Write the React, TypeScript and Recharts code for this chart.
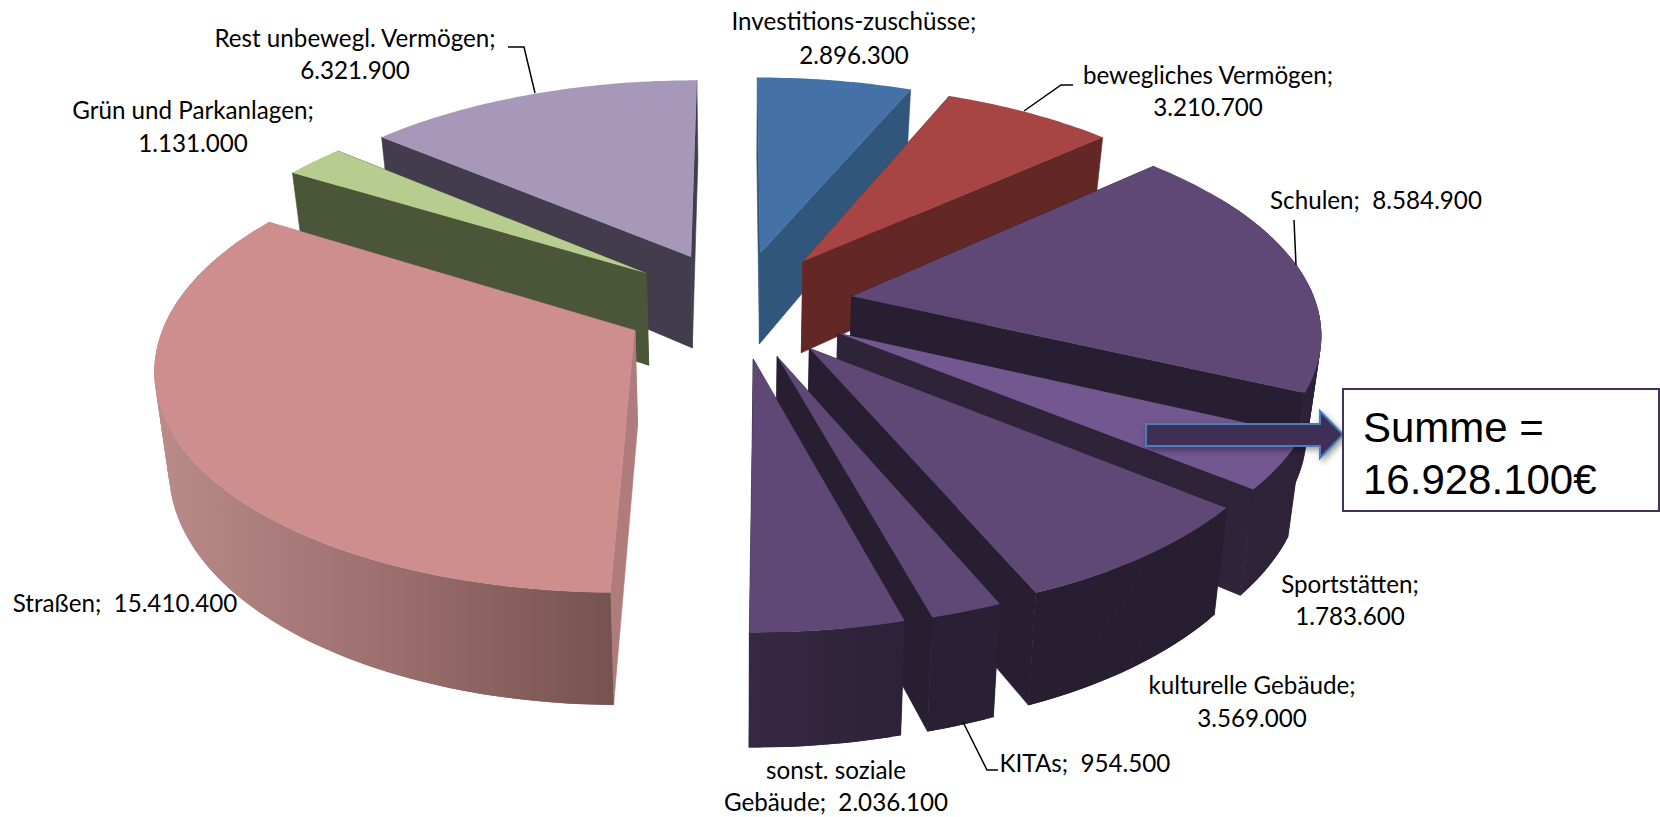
import { PieChart, Pie } from 'recharts';

// values clockwise from 12 o'clock (right half) and counter-clockwise (left half)
// two pies so the left half can paint back to front
const rightNames = ['Investitions-zuschüsse', 'bewegliches Vermögen', 'Schulen', 'Sportstätten', 'kulturelle Gebäude', 'KITAs', 'sonst. soziale Gebäude'];
const rightValues = [2896300, 3210700, 8584900, 1783600, 3569000, 954500, 2036100];
const leftNames = ['Rest unbewegl. Vermögen', 'Grün und Parkanlagen', 'Straßen'];
const leftValues = [6321900, 1131000, 15410400];
const sumLines = ['Summe =', '16.928.100€'];

const W = 1660;
const H = 817;
const CX = 738;
const CY = 304;
const RADIUS = 470;
const EXPLODE = 117;
const TILT = 0.458;
const PERSP = 0.183;
const DEPTH = 94;
const X_SCALE = 0.988;

const rightData = rightNames.map((name, i) => ({ name, value: rightValues[i] }));
const leftData = leftNames.map((name, i) => ({ name, value: leftValues[i] }));
const rightSum = rightValues.reduce((a, b) => a + b, 0);
const leftSum = leftValues.reduce((a, b) => a + b, 0);
const total = rightSum + leftSum;

const colors: Record<string, { top: string; face: string; wall: string }> = {
  'Investitions-zuschüsse': { top: '#4472a6', face: '#31567b', wall: '#31567b' },
  'bewegliches Vermögen': { top: '#a64543', face: '#632725', wall: '#632725' },
  Schulen: { top: '#5f4876', face: '#271e31', wall: '#2d2238' },
  Sportstätten: { top: '#725790', face: '#2e2339', wall: '#2e2339' },
  'kulturelle Gebäude': { top: '#5f4876', face: '#271e31', wall: '#271e31' },
  KITAs: { top: '#5f4876', face: '#271e31', wall: '#2a2035' },
  'sonst. soziale Gebäude': { top: '#5f4876', face: '#271e31', wall: 'url(#sonstWall)' },
  Straßen: { top: '#ce8e8d', face: '#af7c7b', wall: 'url(#strassenWall)' },
  'Grün und Parkanlagen': { top: '#b6cd8f', face: '#4b5538', wall: '#4b5538' },
  'Rest unbewegl. Vermögen': { top: '#a798ba', face: '#433c4c', wall: '#433c4c' },
};

type LabelDef = { x: number; lines: string[]; y: number[]; leader?: string };
const labels: Record<string, LabelDef> = {
  'Investitions-zuschüsse': { x: 854, lines: ['Investitions-zuschüsse;', '2.896.300'], y: [30, 64] },
  'bewegliches Vermögen': { x: 1208, lines: ['bewegliches Vermögen;', '3.210.700'], y: [84, 116], leader: '1073,85 1061,85 1024,111' },
  Schulen: { x: 1376, lines: ['Schulen;  8.584.900'], y: [209], leader: '1294,220 1296,265' },
  Sportstätten: { x: 1350, lines: ['Sportstätten;', '1.783.600'], y: [593, 625] },
  'kulturelle Gebäude': { x: 1252, lines: ['kulturelle Gebäude;', '3.569.000'], y: [694, 727] },
  KITAs: { x: 1085, lines: ['KITAs;  954.500'], y: [772], leader: '963,722 987,770 998,770' },
  'sonst. soziale Gebäude': { x: 836, lines: ['sonst. soziale', 'Gebäude;  2.036.100'], y: [779, 811] },
  Straßen: { x: 125, lines: ['Straßen;  15.410.400'], y: [612] },
  'Grün und Parkanlagen': { x: 193, lines: ['Grün und Parkanlagen;', '1.131.000'], y: [119, 152] },
  'Rest unbewegl. Vermögen': { x: 355, lines: ['Rest unbewegl. Vermögen;', '6.321.900'], y: [47, 79], leader: '508,47 524,47 535,93' },
};

const rad = (deg: number) => (deg * Math.PI) / 180;
const toPath = (pts: number[][]) => 'M' + pts.map((p) => `${p[0].toFixed(1)},${p[1].toFixed(1)}`).join('L') + 'Z';

// tilted, exploded slice from the angles recharts works out
function Slice3D(props: any) {
  const { cx, cy, outerRadius, startAngle, endAngle, payload, name } = props;
  const c = colors[name ?? payload?.name];
  const mid = (startAngle + endAngle) / 2;
  const ox = EXPLODE * Math.cos(rad(mid));
  const oy = -EXPLODE * Math.sin(rad(mid));
  const limit = outerRadius + EXPLODE;

  const project = (x: number, y: number, z: number) => {
    const s = 1 / (1 - (PERSP * y) / limit);
    const zs = 1 - (0.025 * z) / DEPTH;
    return [cx + x * X_SCALE * s * zs, cy + TILT * y * s + z * s];
  };
  const rimAt = (a: number, z: number) =>
    project(ox + outerRadius * Math.cos(rad(a)), oy - outerRadius * Math.sin(rad(a)), z);
  const apex = (z: number) => project(ox, oy, z);

  const steps = Math.max(2, Math.ceil(Math.abs(endAngle - startAngle)));
  const angles = Array.from({ length: steps + 1 }, (_, i) => startAngle + ((endAngle - startAngle) * i) / steps);
  const rim = angles.map((a) => rimAt(a, 0));
  // only the part of the outer wall that can show below the top
  const front = angles.filter((a) => Math.sin(rad(a)) < 0.5);

  return (
    <g>
      <path d={toPath([apex(0), rimAt(startAngle, 0), rimAt(startAngle, DEPTH), apex(DEPTH)])} fill={c.face} stroke={c.face} strokeWidth={0.6} />
      <path d={toPath([apex(0), rimAt(endAngle, 0), rimAt(endAngle, DEPTH), apex(DEPTH)])} fill={c.face} stroke={c.face} strokeWidth={0.6} />
      {/* one quad per step, overlapping the next one so no seams show;
          a single outline would cancel itself where the wall folds */}
      {front.slice(0, -1).map((a, i) => {
        const b = front[Math.min(i + 2, front.length - 1)];
        return <path key={i} d={toPath([rimAt(a, 0), rimAt(b, 0), rimAt(b, DEPTH), rimAt(a, DEPTH)])} fill={c.wall} />;
      })}
      <path d={toPath([apex(0), ...rim])} fill={c.top} />
    </g>
  );
}

function SliceLabel(props: any) {
  const def = labels[props.name ?? props.payload?.name];
  if (!def) return null;
  return (
    <g>
      {def.leader && <polyline points={def.leader} fill="none" stroke="#000" strokeWidth={1.5} />}
      {def.lines.map((line, i) => (
        <text
          key={i}
          x={def.x}
          y={def.y[i]}
          textAnchor="middle"
          xmlSpace="preserve"
          style={{ whiteSpace: 'pre' }}
          fontFamily="Lato, sans-serif"
          fontSize={24.2}
          fill="#000"
        >
          {line}
        </text>
      ))}
    </g>
  );
}

export default function App() {
  return (
    <div style={{ position: 'absolute', left: 0, top: 0, width: W, height: H, background: '#fff' }}>
      <PieChart width={W} height={H} margin={{ top: 0, right: 0, bottom: 0, left: 0 }}>
        <defs>
          <linearGradient id="strassenWall" gradientUnits="userSpaceOnUse" x1={153} y1={0} x2={611} y2={0}>
            <stop offset="0%" stopColor="#b98b89" />
            <stop offset="55%" stopColor="#996d6c" />
            <stop offset="100%" stopColor="#765350" />
          </linearGradient>
          <linearGradient id="sonstWall" gradientUnits="userSpaceOnUse" x1={750} y1={0} x2={905} y2={0}>
            <stop offset="0%" stopColor="#372842" />
            <stop offset="100%" stopColor="#2c2139" />
          </linearGradient>
        </defs>
        <Pie
          data={leftData}
          dataKey="value"
          nameKey="name"
          cx={CX}
          cy={CY}
          outerRadius={RADIUS}
          startAngle={90}
          endAngle={90 + (360 * leftSum) / total}
          stroke="none"
          shape={Slice3D}
          label={SliceLabel}
          labelLine={false}
          isAnimationActive={false}
        />
        <Pie
          data={rightData}
          dataKey="value"
          nameKey="name"
          cx={CX}
          cy={CY}
          outerRadius={RADIUS}
          startAngle={90}
          endAngle={90 - (360 * rightSum) / total}
          stroke="none"
          shape={Slice3D}
          label={SliceLabel}
          labelLine={false}
          isAnimationActive={false}
        />
      </PieChart>
      {/* callout for the sum of the buildings, has to sit above the pies */}
      <svg width={W} height={H} style={{ position: 'absolute', left: 0, top: 0, pointerEvents: 'none' }}>
        <path
          d="M1146,424H1320V411L1343,434.500L1320,458V446H1146Z"
          fill="#402f55"
          stroke="#4a7ebb"
          strokeWidth={2}
          style={{ filter: 'drop-shadow(2px 3px 3px rgba(0,0,0,0.4))' }}
        />
        <rect x={1343} y={389} width={316} height={122} fill="#fff" stroke="#433358" strokeWidth={2} />
        <text x={1363} y={442} fontFamily="Liberation Sans, Arial, sans-serif" fontSize={42} fill="#000">
          {sumLines[0]}
        </text>
        <text x={1363} y={494} fontFamily="Liberation Sans, Arial, sans-serif" fontSize={42} fill="#000">
          {sumLines[1]}
        </text>
      </svg>
    </div>
  );
}
